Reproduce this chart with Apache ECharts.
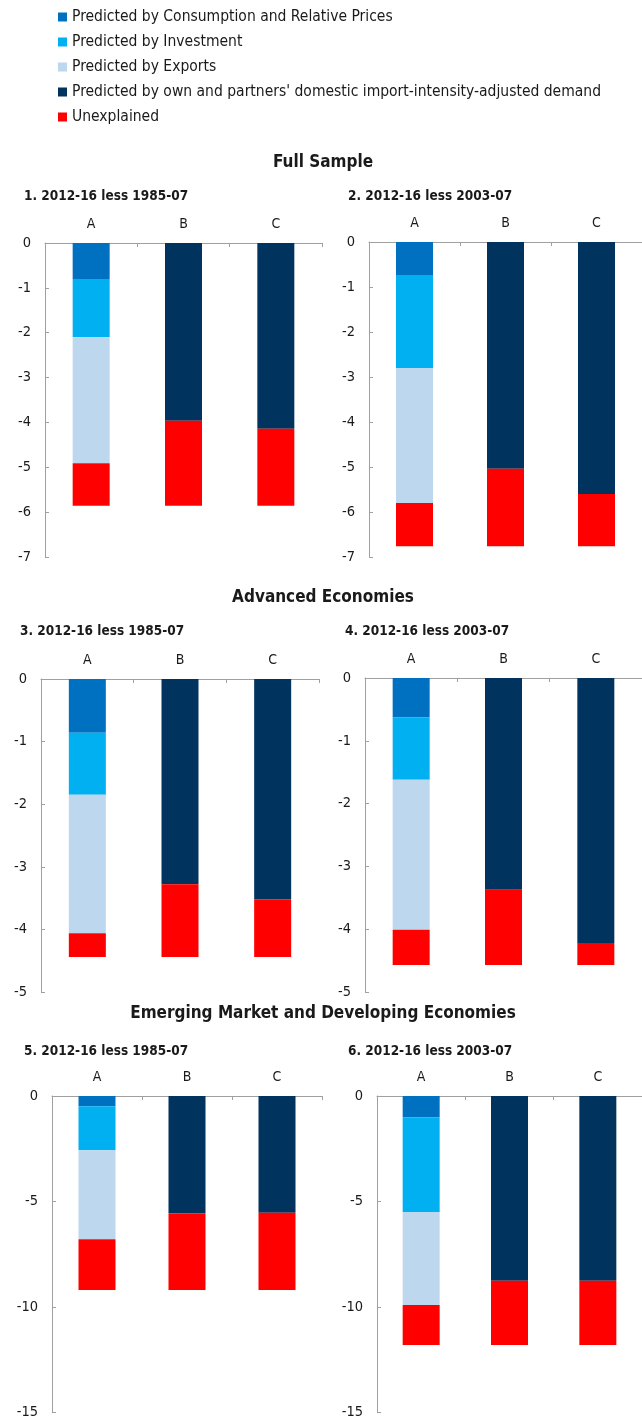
<!DOCTYPE html>
<html>
<head>
<meta charset="utf-8">
<script src="https://cdn.jsdelivr.net/npm/echarts@6/dist/echarts.min.js"></script>
<style>
html,body{margin:0;padding:0;background:#fff;}
#c{width:642px;height:1420px;}
</style>
</head>
<body>
<div id="c"></div>
<script>
// ---- data ----
const categories = ['A', 'B', 'C'];
const seriesNames = [
  'Predicted by Consumption and Relative Prices',
  'Predicted by Investment',
  'Predicted by Exports',
  "Predicted by own and partners' domestic import-intensity-adjusted demand",
  'Unexplained'
];
const sectionTitles = ['Full Sample', 'Advanced Economies', 'Emerging Market and Developing Economies'];
const panelTitles = [
  '1. 2012-16 less 1985-07', '2. 2012-16 less 2003-07',
  '3. 2012-16 less 1985-07', '4. 2012-16 less 2003-07',
  '5. 2012-16 less 1985-07', '6. 2012-16 less 2003-07'
];
// values for bar A in each panel
const consumptionA = [-0.80, -0.75, -0.86, -0.63, -0.49, -1.01];
const investmentA  = [-1.30, -2.05, -0.99, -0.99, -2.08, -4.49];
const exportsA     = [-2.81, -3.00, -2.21, -2.39, -4.22, -4.41];
// values for bars B and C in each panel
const ownDemandBC = [
  [-3.96, -4.14], [-5.04, -5.60],
  [-3.28, -3.52], [-3.37, -4.22],
  [-5.57, -5.53], [-8.76, -8.76]
];
// unexplained for A, B, C
const unexplainedABC = [
  [-0.95, -1.90, -1.72], [-0.96, -1.72, -1.16],
  [-0.38, -1.16, -0.92], [-0.56, -1.20, -0.35],
  [-2.41, -3.63, -3.67], [-1.89, -3.04, -3.04]
];
const yMin = [-7, -7, -5, -5, -15, -15];
const yInterval = [1, 1, 1, 1, 5, 5];

// ---- style ----
const FONT = "'Liberation Sans Narrow','DejaVu Sans Condensed','Liberation Sans',sans-serif";
const colors = ['#0070C0', '#00B0F0', '#BDD7EE', '#00335E', '#FF0000'];
const axisColor = '#A0A0A0';
const textColor = '#1A1A1A';
const grids = [
  {left: 45, top: 243, width: 277, height: 314},
  {left: 369, top: 242, width: 276, height: 315},
  {left: 41, top: 679, width: 278, height: 313},
  {left: 365, top: 678, width: 279, height: 314},
  {left: 52, top: 1096, width: 270, height: 317},
  {left: 377, top: 1096, width: 271, height: 317}
];

const option = {
  animation: false,
  textStyle: {fontFamily: FONT},
  color: colors,
  legend: {
    orient: 'vertical', left: 53, top: 3,
    icon: 'rect', itemWidth: 9, itemHeight: 9, itemGap: 7,
    textStyle: {fontFamily: FONT, fontSize: 15.5, lineHeight: 18, color: textColor},
    data: seriesNames
  },
  grid: grids.map(g => Object.assign({containLabel: false}, g)),
  xAxis: grids.map((g, i) => ({
    type: 'category', gridIndex: i, data: categories, position: 'top',
    axisLine: {show: true, onZero: false, lineStyle: {color: axisColor, width: 1}},
    axisTick: {show: true, inside: true, length: 4, lineStyle: {color: axisColor}},
    axisLabel: {fontFamily: FONT, fontSize: 14, color: textColor, margin: 12}
  })),
  yAxis: grids.map((g, i) => ({
    type: 'value', gridIndex: i, min: yMin[i], max: 0, interval: yInterval[i],
    axisLine: {show: true, lineStyle: {color: axisColor, width: 1}},
    axisTick: {show: true, inside: true, length: 4, lineStyle: {color: axisColor}},
    splitLine: {show: false},
    axisLabel: {fontFamily: FONT, fontSize: 14.5, color: textColor, margin: 14}
  })),
  graphic: [],
  series: []
};

// section titles
const sectionY = [163, 598, 1014];
sectionTitles.forEach((t, k) => {
  option.graphic.push({
    type: 'text', x: 323, y: sectionY[k],
    style: {text: t, fontFamily: FONT, fontSize: 17, fontWeight: 'bold', fill: textColor,
            textAlign: 'center', textVerticalAlign: 'middle'}
  });
});
// panel titles
const ptPos = [[24, 196], [348, 196], [20, 631], [345, 631], [24, 1051], [348, 1051]];
panelTitles.forEach((t, i) => {
  option.graphic.push({
    type: 'text', x: ptPos[i][0], y: ptPos[i][1],
    style: {text: t, fontFamily: FONT, fontSize: 13.5, fontWeight: 'bold', fill: textColor,
            textAlign: 'left', textVerticalAlign: 'middle'}
  });
});

// series
for (let i = 0; i < 6; i++) {
  const data = [
    [consumptionA[i], '-', '-'],
    [investmentA[i], '-', '-'],
    [exportsA[i], '-', '-'],
    ['-', ownDemandBC[i][0], ownDemandBC[i][1]],
    unexplainedABC[i]
  ];
  seriesNames.forEach((name, s) => {
    option.series.push({
      type: 'bar', name: name, xAxisIndex: i, yAxisIndex: i,
      stack: 'p' + i, barWidth: 37, data: data[s],
      itemStyle: {color: colors[s]},
      emphasis: {disabled: true}
    });
  });
}

const chart = echarts.init(document.getElementById('c'), null, {renderer: 'canvas'});
chart.setOption(option);
</script>
</body>
</html>
